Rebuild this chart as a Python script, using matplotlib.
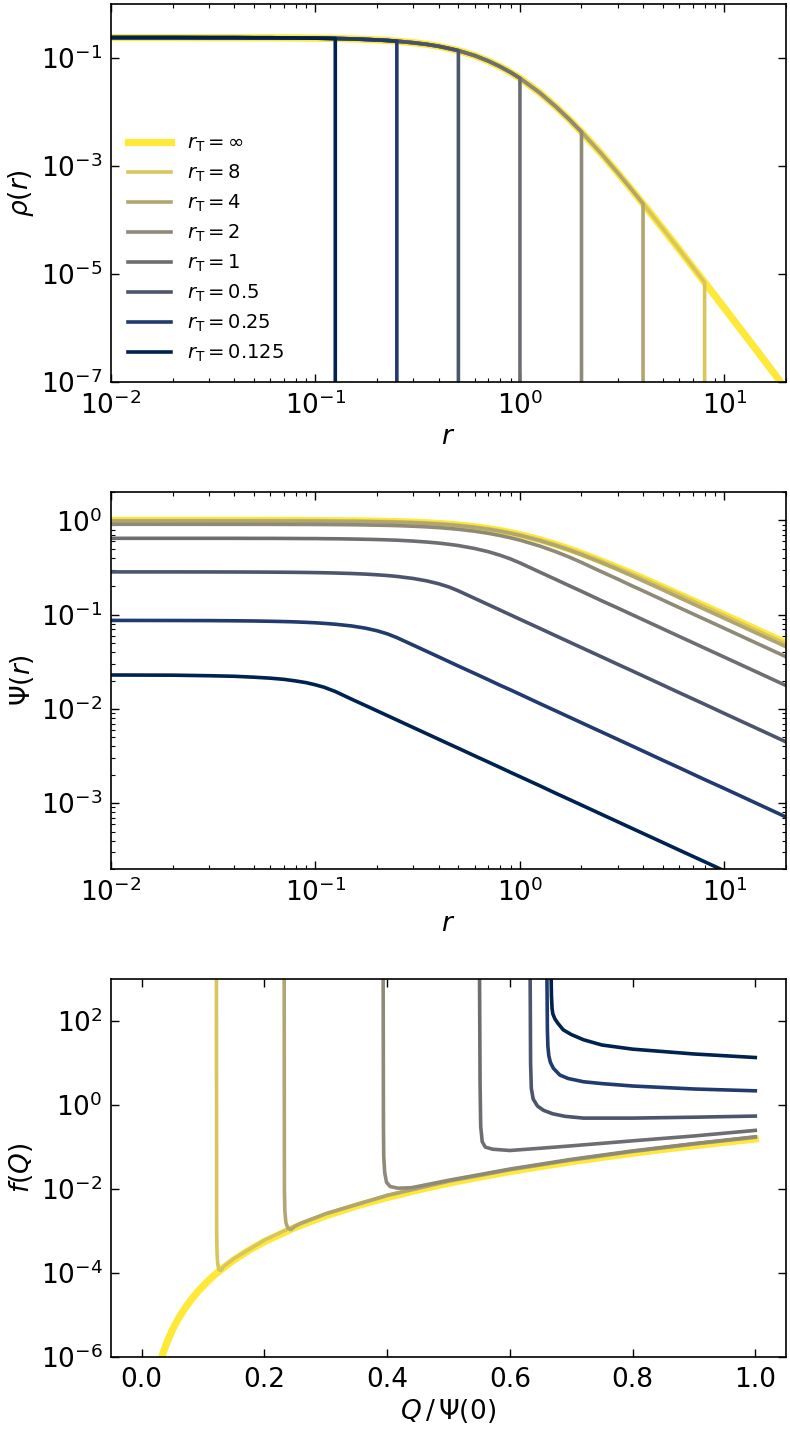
import numpy as np
import matplotlib
matplotlib.use("Agg")
import matplotlib.pyplot as plt
from matplotlib import ticker

# truncation radii (None = untruncated)
r_trunc = [None, 8, 4, 2, 1, 0.5, 0.25, 0.125]
labels = [r"$r_\mathrm{T}=\infty$", r"$r_\mathrm{T}=8$", r"$r_\mathrm{T}=4$",
          r"$r_\mathrm{T}=2$", r"$r_\mathrm{T}=1$", r"$r_\mathrm{T}=0.5$",
          r"$r_\mathrm{T}=0.25$", r"$r_\mathrm{T}=0.125$"]

r_grid = [0.01, 0.02, 0.03, 0.04, 0.05, 0.06, 0.07, 0.08, 0.09, 0.1, 0.11,
          0.125, 0.15, 0.175, 0.2, 0.225, 0.25, 0.3, 0.35, 0.4, 0.45, 0.5,
          0.6, 0.7, 0.8, 0.9, 1, 1.25, 1.5, 1.75, 2, 2.5, 3, 3.5, 4, 5, 6, 8,
          10, 14, 20]

# density of the untruncated model
rho_inf = [0.239, 0.239, 0.238, 0.238, 0.237, 0.237, 0.236, 0.235, 0.234,
           0.233, 0.232, 0.230, 0.226, 0.221, 0.216, 0.211, 0.205, 0.192,
           0.179, 0.165, 0.150, 0.137, 0.111, 0.0881, 0.0693, 0.0542, 0.0422,
           0.0227, 0.0125, 0.00718, 0.00427, 0.00169, 0.000755, 0.000374,
           0.000200, 6.9e-5, 2.87e-5, 7.0e-6, 2.33e-6, 4.4e-7, 7.4e-8]

# potentials
psi_inf = [1.000, 1.000, 1.000, 0.999, 0.999, 0.998, 0.998, 0.997, 0.996,
           0.995, 0.994, 0.992, 0.989, 0.985, 0.981, 0.976, 0.970, 0.958,
           0.944, 0.928, 0.912, 0.894, 0.857, 0.819, 0.781, 0.743, 0.707,
           0.625, 0.555, 0.496, 0.447, 0.371, 0.316, 0.275, 0.243, 0.196,
           0.164, 0.124, 0.0995, 0.0713, 0.0499]
psi_8 = [0.998, 0.998, 0.998, 0.997, 0.997, 0.996, 0.996, 0.995, 0.994,
         0.993, 0.992, 0.990, 0.987, 0.983, 0.979, 0.974, 0.968, 0.956,
         0.942, 0.927, 0.910, 0.893, 0.856, 0.817, 0.779, 0.741, 0.705,
         0.623, 0.553, 0.494, 0.445, 0.370, 0.314, 0.273, 0.241, 0.194,
         0.163, 0.122, 0.0977, 0.0698, 0.0489]
psi_4 = [0.986, 0.986, 0.985, 0.985, 0.984, 0.984, 0.983, 0.983, 0.982,
         0.981, 0.980, 0.978, 0.975, 0.971, 0.966, 0.961, 0.956, 0.944,
         0.930, 0.914, 0.898, 0.880, 0.843, 0.805, 0.767, 0.729, 0.693,
         0.610, 0.540, 0.482, 0.433, 0.357, 0.302, 0.260, 0.228, 0.183,
         0.152, 0.114, 0.0913, 0.0652, 0.0457]
psi_2 = [0.911, 0.910, 0.910, 0.910, 0.909, 0.909, 0.908, 0.907, 0.907,
         0.906, 0.905, 0.903, 0.900, 0.896, 0.891, 0.886, 0.881, 0.868,
         0.854, 0.839, 0.822, 0.805, 0.768, 0.730, 0.691, 0.654, 0.618,
         0.535, 0.465, 0.407, 0.358, 0.286, 0.239, 0.204, 0.179, 0.143,
         0.119, 0.0894, 0.0716, 0.0511, 0.0358]
psi_1 = [0.646, 0.646, 0.646, 0.646, 0.645, 0.645, 0.644, 0.643, 0.642,
         0.642, 0.640, 0.639, 0.635, 0.631, 0.627, 0.622, 0.617, 0.604,
         0.590, 0.575, 0.558, 0.541, 0.504, 0.466, 0.427, 0.390, 0.354,
         0.283, 0.236, 0.202, 0.177, 0.141, 0.118, 0.101, 0.0884, 0.0707,
         0.0589, 0.0442, 0.0354, 0.0253, 0.0177]
psi_05 = [0.2844, 0.2843, 0.2840, 0.2837, 0.2832, 0.2827, 0.2820, 0.2813,
          0.2804, 0.2795, 0.2785, 0.2767, 0.2734, 0.2695, 0.2650, 0.2601,
          0.2546, 0.2423, 0.2283, 0.2129, 0.1964, 0.1789, 0.1491, 0.1278,
          0.1118, 0.0994, 0.0894, 0.0716, 0.0596, 0.0511, 0.0447, 0.0358,
          0.0298, 0.0256, 0.0224, 0.0179, 0.0149, 0.0112, 0.00894, 0.00639,
          0.00447]
psi_025 = [0.0869, 0.0867, 0.0865, 0.0861, 0.0857, 0.0851, 0.0845, 0.0838,
           0.0829, 0.0820, 0.0809, 0.0792, 0.0759, 0.0720, 0.0675, 0.0625,
           0.0571, 0.0476, 0.0408, 0.0357, 0.0317, 0.0285, 0.0238, 0.0204,
           0.0178, 0.0159, 0.0143, 0.0114, 0.00951, 0.00815, 0.00713,
           0.00571, 0.00476, 0.00408, 0.00357, 0.00285, 0.00238, 0.00178,
           0.00143, 0.00102, 0.000713]
psi_0125 = [0.0229, 0.0228, 0.0225, 0.0222, 0.0217, 0.0212, 0.0206, 0.0198,
            0.0190, 0.0180, 0.0170, 0.0153, 0.0127, 0.0109, 0.00954, 0.00848,
            0.00763, 0.00636, 0.00545, 0.00477, 0.00424, 0.00382, 0.00318,
            0.00273, 0.00239, 0.00212, 0.00191, 0.00153, 0.00127, 0.00109,
            0.000954, 0.000763, 0.000636, 0.000545, 0.000477, 0.000382,
            0.000318, 0.000239, 0.000191, 0.000136, 0.0000954]

# distribution functions against Q / Psi(0)
q_inf = [0.03, 0.035, 0.04, 0.045, 0.05, 0.055, 0.06, 0.07, 0.08, 0.09, 0.1,
         0.11, 0.125, 0.15, 0.175, 0.2, 0.25, 0.3, 0.35, 0.4, 0.45, 0.5,
         0.55, 0.6, 0.65, 0.7, 0.75, 0.8, 0.85, 0.9, 0.95, 1.0]
f_inf = [7.3e-7, 1.25e-6, 2.0e-6, 3.02e-6, 4.4e-6, 6.09e-6, 8.3e-6, 1.42e-5,
         2.26e-5, 3.41e-5, 4.9e-5, 6.89e-5, 1.08e-4, 2.04e-4, 3.50e-4,
         5.6e-4, 1.22e-3, 2.31e-3, 3.96e-3, 6.3e-3, 9.53e-3, 0.0138, 0.0193,
         0.0261, 0.0345, 0.0448, 0.057, 0.0714, 0.0883, 0.108, 0.130, 0.156]
q_8 = [0.1218, 0.1222, 0.1228, 0.124, 0.126, 0.129, 0.134, 0.15, 0.2, 0.25,
       0.3, 0.4, 0.5, 0.6, 0.7, 0.8, 0.9, 1.0]
f_8 = [2e3, 1e-3, 3e-4, 1.6e-4, 1.2e-4, 1.15e-4, 1.45e-4, 2.2e-4, 6.1e-4,
       1.34e-3, 2.55e-3, 7.0e-3, 0.0152, 0.0288, 0.049, 0.078, 0.118, 0.170]
q_4 = [0.2322, 0.2326, 0.2333, 0.235, 0.238, 0.243, 0.25, 0.26, 0.3, 0.4,
       0.5, 0.6, 0.7, 0.8, 0.9, 1.0]
f_4 = [2e3, 1e-2, 3e-3, 1.6e-3, 1.2e-3, 1.08e-3, 1.3e-3, 1.55e-3, 2.6e-3,
       7.1e-3, 0.0155, 0.029, 0.0495, 0.079, 0.119, 0.173]
q_2 = [0.3935, 0.3940, 0.3945, 0.396, 0.399, 0.405, 0.418, 0.44, 0.5, 0.6,
       0.7, 0.8, 0.9, 1.0]
f_2 = [2e3, 0.3, 0.06, 0.025, 0.0145, 0.0115, 0.0105, 0.0108, 0.0162, 0.0300,
       0.051, 0.081, 0.121, 0.176]
q_1 = [0.5505, 0.5515, 0.5525, 0.555, 0.560, 0.572, 0.60, 0.65, 0.7, 0.8,
       0.9, 1.0]
f_1 = [2e3, 3.0, 0.31, 0.134, 0.10, 0.089, 0.083, 0.094, 0.107, 0.141,
       0.184, 0.25]
q_05 = [0.6330, 0.6338, 0.635, 0.638, 0.645, 0.655, 0.67, 0.69, 0.72, 0.8,
        0.9, 1.0]
f_05 = [2e3, 10, 2.5, 1.4, 0.95, 0.75, 0.62, 0.54, 0.49, 0.49, 0.515, 0.548]
q_025 = [0.6603, 0.6612, 0.662, 0.6635, 0.666, 0.671, 0.6815, 0.695, 0.72,
         0.75, 0.8, 0.9, 1.0]
f_025 = [2e3, 60, 25, 15, 10.5, 7.5, 5.2, 4.3, 3.6, 3.25, 2.85, 2.42, 2.19]
q_0125 = [0.6670, 0.6678, 0.6688, 0.670, 0.6733, 0.678, 0.687, 0.70, 0.72,
          0.75, 0.8, 0.9, 1.0]
f_0125 = [2e3, 400, 200, 150, 114, 90, 62, 48, 36, 27, 21.5, 16.5, 13.6]

psi_all = [psi_inf, psi_8, psi_4, psi_2, psi_1, psi_05, psi_025, psi_0125]
q_all = [q_inf, q_8, q_4, q_2, q_1, q_05, q_025, q_0125]
f_all = [f_inf, f_8, f_4, f_2, f_1, f_05, f_025, f_0125]

colors = plt.cm.cividis(np.linspace(1, 0, len(r_trunc)))
widths = [5.2] + [2.6] * (len(r_trunc) - 1)
FS = 19

fig = plt.figure(figsize=(7.9, 14.3), dpi=100)
ax1 = fig.add_axes([0.1405, 0.7329, 0.8544, 0.2643])
ax2 = fig.add_axes([0.1405, 0.3923, 0.8544, 0.2636])
ax3 = fig.add_axes([0.1405, 0.0510, 0.8544, 0.2643])

r_arr = np.array(r_grid)
rho_arr = np.array(rho_inf)
for rT, lab, c, lw in zip(r_trunc, labels, colors, widths):
    if rT is None:
        rr, rho = r_arr, rho_arr
    else:
        keep = r_arr <= rT
        # density is zero outside r_T
        rr = np.append(r_arr[keep], rT)
        rho = np.append(rho_arr[keep], 0.0)
    ax1.plot(rr, rho, color=c, lw=lw, label=lab)

for psi, c, lw in zip(psi_all, colors, widths):
    ax2.plot(r_grid, psi, color=c, lw=lw)

for q, f, c, lw in zip(q_all, f_all, colors, widths):
    ax3.plot(q, f, color=c, lw=lw)

for ax in (ax1, ax2):
    ax.set_xscale("log")
    ax.set_yscale("log")
    ax.set_xlim(0.01, 20)
    ax.set_xlabel(r"$r$", fontsize=FS, labelpad=3)
ax1.set_ylim(1e-7, 1)
ax1.set_yticks([1e-7, 1e-5, 1e-3, 1e-1])
ax1.yaxis.set_minor_locator(ticker.NullLocator())
ax1.set_ylabel(r"$\rho(r)$", fontsize=FS)
ax1.legend(loc="lower left", frameon=False, fontsize=14, handlelength=2.2,
           labelspacing=0.45)

ax2.set_ylim(2e-4, 2)
ax2.set_ylabel(r"$\Psi(r)$", fontsize=FS)

ax3.set_yscale("log")
ax3.set_xlim(-0.05, 1.05)
ax3.set_ylim(1e-6, 1e3)
ax3.set_yticks([1e-6, 1e-4, 1e-2, 1e0, 1e2])
ax3.yaxis.set_minor_locator(ticker.NullLocator())
ax3.set_xlabel(r"$Q\,/\,\Psi(0)$", fontsize=FS, labelpad=3)
ax3.set_ylabel(r"$f(Q)$", fontsize=FS)

for ax in (ax1, ax2, ax3):
    ax.tick_params(which="both", direction="in", top=True, right=True,
                   labelsize=FS)
    ax.tick_params(axis="x", pad=7)
    ax.tick_params(axis="y", pad=6)
    ax.tick_params(which="major", length=6, width=1)
    ax.tick_params(which="minor", length=3, width=0.8)
    for s in ax.spines.values():
        s.set_linewidth(1.2)

fig.savefig("out.png", dpi=100)
